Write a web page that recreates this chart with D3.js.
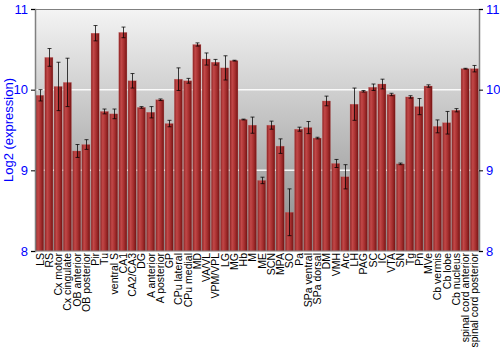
<!DOCTYPE html>
<html><head><meta charset="utf-8">
<script src="https://cdn.jsdelivr.net/npm/d3@7"></script>
<style>body{margin:0;background:#fff}svg{display:block}</style>
</head><body><svg id="c" width="500" height="350"></svg>
<script>
const categories = ["LS","RS","Cx motor","Cx cingulate","OB anterior","OB posterior","Pir","Tu","ventral S","CA1","CA2/CA3","DG","A anterior","A posterior","GP","CPu lateral","CPu medial","MD","VA/VL","VPM/VPL","LG","MG","Hb","M","ME","SCN","MPA","SO","Pa","SPa ventral","SPa dorsal","DM","VMH","Arc","LH","PAG","SC","IC","VTA","SN","Tg","Pn","MVe","Cb vermis","Cb lobe","Cb nucleus","spinal cord anterior","spinal cord posterior"];
const values = [9.93,10.40,10.04,10.09,9.24,9.32,10.70,9.73,9.70,10.71,10.11,9.78,9.72,9.875,9.58,10.13,10.11,10.56,10.38,10.34,10.27,10.36,9.63,9.56,8.875,9.56,9.30,8.48,9.51,9.53,9.40,9.86,9.085,8.92,9.82,9.98,10.03,10.07,9.94,9.08,9.91,9.79,10.045,9.545,9.59,9.745,10.26,10.26];
const errors = [0.07,0.11,0.30,0.30,0.08,0.06,0.095,0.03,0.06,0.066,0.09,0.01,0.07,0.01,0.04,0.14,0.03,0.02,0.075,0.035,0.15,0.005,0.005,0.10,0.04,0.05,0.09,0.29,0.025,0.075,0.01,0.06,0.05,0.15,0.20,0.01,0.04,0.06,0.015,0.01,0.015,0.10,0.015,0.08,0.14,0.02,0.005,0.04];
const yTicks = [8,9,10,11];
const yTitle = "Log2 (expression)";

const svg = d3.select("#c");
const L = 35, R = 479, T = 9, B = 251;
const x = d3.scaleBand().domain(categories).range([L, R]).paddingInner(0.12).paddingOuter(0.06);
const y = d3.scaleLinear().domain([8, 11]).range([B, T]);

const defs = svg.append("defs");
const bg = defs.append("linearGradient").attr("id","bg").attr("x1",0).attr("y1",0).attr("x2",0).attr("y2",1);
bg.append("stop").attr("offset","0%").attr("stop-color","#f4f4f4");
bg.append("stop").attr("offset","100%").attr("stop-color","#888888");
const bar = defs.append("linearGradient").attr("id","bar").attr("x1",0).attr("y1",0).attr("x2",1).attr("y2",0);
bar.append("stop").attr("offset","0%").attr("stop-color","#8e2424");
bar.append("stop").attr("offset","30%").attr("stop-color","#c24848");
bar.append("stop").attr("offset","65%").attr("stop-color","#a52e2e");
bar.append("stop").attr("offset","100%").attr("stop-color","#741414");

svg.append("rect").attr("x",L).attr("y",T).attr("width",R-L).attr("height",B-T).attr("fill","url(#bg)");

// grid
svg.append("g").selectAll("line").data(yTicks.filter(d=>d>8&&d<11)).join("line")
  .attr("x1",L).attr("x2",R).attr("y1",d=>y(d)).attr("y2",d=>y(d))
  .attr("stroke","#ffffff").attr("stroke-width",1.5).attr("opacity",0.9);

// bars
svg.append("g").selectAll("rect").data(categories).join("rect")
  .attr("x",d=>x(d)).attr("width",x.bandwidth())
  .attr("y",(d,i)=>y(values[i])).attr("height",(d,i)=>B-y(values[i]))
  .attr("fill","url(#bar)").attr("stroke","#c86a6a").attr("stroke-width",0.4).attr("stroke-opacity",0.6);

// error bars
const eg = svg.append("g").attr("stroke","#000").attr("stroke-opacity",0.75).attr("stroke-width",1);
categories.forEach((c,i)=>{
  const cx = Math.round(x(c)+x.bandwidth()/2)+0.5;
  const y1 = y(values[i]+errors[i]), y2 = y(values[i]-errors[i]);
  eg.append("line").attr("x1",cx).attr("x2",cx).attr("y1",y1).attr("y2",y2);
  eg.append("line").attr("x1",cx-2).attr("x2",cx+2).attr("y1",y1).attr("y2",y1);
  eg.append("line").attr("x1",cx-2).attr("x2",cx+2).attr("y1",y2).attr("y2",y2);
});

// frame
svg.append("line").attr("x1",L).attr("x2",R).attr("y1",T+0.5).attr("y2",T+0.5).attr("stroke","#808080");
svg.append("line").attr("x1",L).attr("x2",R).attr("y1",B).attr("y2",B).attr("stroke","#808080");

// axes
const ax = d3.axisLeft(y).tickValues(yTicks).tickFormat(d3.format("d")).tickSize(4).tickPadding(3);
const gl = svg.append("g").attr("transform",`translate(${L},0)`).call(ax);
const gr = svg.append("g").attr("transform",`translate(${R},0)`).call(d3.axisRight(y).tickValues(yTicks).tickFormat(d3.format("d")).tickSize(4).tickPadding(3));
[gl,gr].forEach(g=>{
  g.select(".domain").attr("stroke","#808080").attr("stroke-width",1.5);
  g.selectAll(".tick line").attr("stroke","#000");
  g.selectAll(".tick text").attr("fill","#0000ff").attr("font-family","Liberation Sans, Arial, sans-serif").attr("font-size",13);
});

svg.append("text").attr("transform",`translate(13,${(T+B)/2}) rotate(-90)`)
  .attr("text-anchor","middle").attr("fill","#0000ff")
  .attr("font-family","Liberation Sans, Arial, sans-serif").attr("font-size",13).text(yTitle);

// category labels
svg.append("g").selectAll("text").data(categories).join("text")
  .attr("transform",d=>`translate(${x(d)+x.bandwidth()/2+4},${B+2}) rotate(-90)`)
  .attr("text-anchor","end").attr("fill","#000")
  .attr("font-family","Liberation Sans, Arial, sans-serif").attr("font-size",10.5).text(d=>d);
</script></body></html>
